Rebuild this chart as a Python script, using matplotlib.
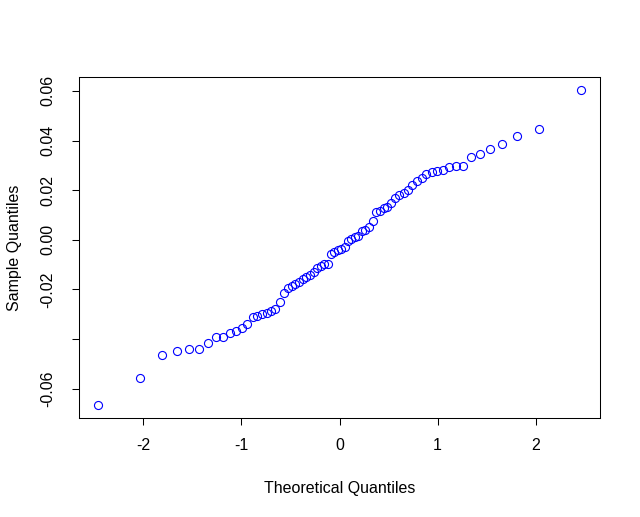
"""Normal Q-Q plot, R base-graphics look."""
import matplotlib
matplotlib.use("Agg")
import matplotlib.pyplot as plt
import numpy as np

plt.rcParams["font.family"] = ["Liberation Sans", "DejaVu Sans"]

# theoretical quantiles, lower half; upper half mirrors it
theo_lower = [-2.461, -2.037, -1.815, -1.658, -1.534, -1.430, -1.339, -1.258,
              -1.184, -1.117, -1.054, -0.995, -0.940, -0.887, -0.837, -0.788,
              -0.742, -0.697, -0.653, -0.610, -0.569, -0.528, -0.489, -0.450,
              -0.411, -0.374, -0.337, -0.300, -0.264, -0.228, -0.193, -0.157,
              -0.122, -0.087, -0.052, -0.017]
theo = theo_lower + [-v for v in reversed(theo_lower)]

# sample quantiles (sorted)
sample = [-0.0667, -0.0558, -0.0464, -0.0448, -0.0441, -0.0441, -0.0414, -0.0390,
          -0.0390, -0.0374, -0.0366, -0.0356, -0.0341, -0.0309, -0.0305, -0.0298,
          -0.0293, -0.0286, -0.0280, -0.0251, -0.0216, -0.0193, -0.0187, -0.0180,
          -0.0168, -0.0157, -0.0150, -0.0140, -0.0128, -0.0115, -0.0106, -0.0099,
          -0.0097, -0.0056, -0.0050, -0.0043, -0.0036, -0.0030, -0.0003, 0.0004,
          0.0011, 0.0017, 0.0036, 0.0040, 0.0050, 0.0074, 0.0112, 0.0118,
          0.0128, 0.0132, 0.0150, 0.0170, 0.0180, 0.0187, 0.0200, 0.0220,
          0.0237, 0.0248, 0.0267, 0.0274, 0.0278, 0.0283, 0.0293, 0.0297,
          0.0297, 0.0333, 0.0347, 0.0365, 0.0384, 0.0417, 0.0448, 0.0605]

x_ticks = [-2, -1, 0, 1, 2]
y_ticks = [-0.06, -0.04, -0.02, 0.00, 0.02, 0.04, 0.06]
y_ticklabels = ["-0.06", "", "-0.02", "0.00", "0.02", "0.04", "0.06"]

fig = plt.figure(figsize=(6.4, 5.17), dpi=100)
ax = fig.add_axes([79 / 640, 1 - 418 / 517, 521 / 640, 341 / 517])

ax.plot(theo, sample, linestyle="none", marker="o", markersize=5.8,
        markerfacecolor="none", markeredgecolor="blue", markeredgewidth=0.8)

# R-style 4% padding around the data range
x = np.array(theo)
y = np.array(sample)
xpad = 0.04 * (x.max() - x.min())
ypad = 0.04 * (y.max() - y.min())
ax.set_xlim(x.min() - xpad, x.max() + xpad)
ax.set_ylim(y.min() - ypad, y.max() + ypad)

ax.set_xticks(x_ticks)
ax.set_xticklabels([str(t) for t in x_ticks])
ax.set_yticks(y_ticks)
ax.set_yticklabels(y_ticklabels, rotation=90, va="center")
ax.tick_params(direction="out", length=5, width=0.75, labelsize=11.5)
ax.tick_params(axis="x", pad=9.5)
ax.tick_params(axis="y", pad=12)

for s in ax.spines.values():
    s.set_linewidth(0.75)

ax.set_xlabel("Theoretical Quantiles", fontsize=11.5, labelpad=20)
ax.set_ylabel("Sample Quantiles", fontsize=11.5, labelpad=13)

plt.savefig("out.png", dpi=100)
plt.close()
